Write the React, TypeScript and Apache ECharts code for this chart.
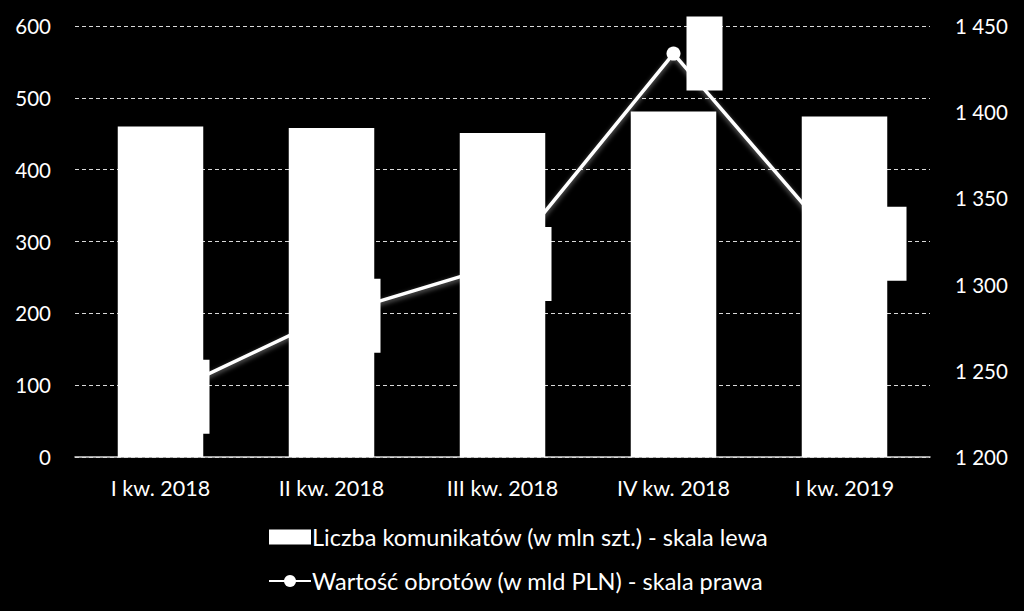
import React, { useEffect, useRef } from "react";
import * as echarts from "echarts";

const categories = ["I kw. 2018", "II kw. 2018", "III kw. 2018", "IV kw. 2018", "I kw. 2019"];
const messages = [460, 458, 451, 481, 474];
const turnover = [1235, 1282, 1312, 1434, 1319];
const leftTicks = { min: 0, max: 600, interval: 100 };
const rightTicks = { min: 1200, max: 1450, interval: 50 };
const barName = "Liczba komunikatów (w mln szt.) - skala lewa";
const lineName = "Wartość obrotów (w mld PLN) - skala prawa";

const FONT = "Lato";

export default function App() {
  const ref = useRef<HTMLDivElement>(null);
  useEffect(() => {
    if (!ref.current) return;
    const chart = echarts.init(ref.current, null, { renderer: "svg" });
    const fmtSpace = (v: number) => String(v).replace(/\B(?=(\d{3})+(?!\d))/g, " ");
    chart.setOption({
      animation: false,
      backgroundColor: "#000",
      textStyle: { fontFamily: FONT },
      grid: { left: 75, right: 94, top: 26, bottom: 154 },
      legend: {
        orient: "vertical",
        left: 263,
        top: 520,
        itemWidth: 42,
        itemHeight: 15,
        itemGap: 20,
        textStyle: { color: "#fff", fontSize: 23.5, fontFamily: FONT, padding: [0, 0, 0, -4] },
        data: [
          { name: barName, icon: "rect" },
          { name: lineName },
        ],
      },
      xAxis: {
        type: "category",
        data: categories,
        axisLine: { lineStyle: { color: "#d9d9d9", width: 1.5 } },
        axisTick: { show: false },
        axisLabel: { color: "#fff", fontSize: 21.5, margin: 20, fontFamily: FONT },
      },
      yAxis: [
        {
          type: "value",
          ...leftTicks,
          axisLine: { show: false },
          axisTick: { show: false },
          axisLabel: { color: "#fff", fontSize: 20.5, margin: 24, fontFamily: FONT },
          splitLine: { lineStyle: { color: "#d9d9d9", type: [4, 3], width: 1 } },
        },
        {
          type: "value",
          ...rightTicks,
          axisLine: { show: false },
          axisTick: { show: false },
          axisLabel: { color: "#fff", fontSize: 20.5, margin: 25, fontFamily: FONT, formatter: fmtSpace },
          splitLine: { show: false },
        },
      ],
      series: [
        {
          name: barName,
          type: "bar",
          data: messages,
          barWidth: "50%",
          itemStyle: { color: "#fff" },
          z: 2,
        },
        {
          name: lineName,
          type: "line",
          yAxisIndex: 1,
          data: turnover.map((v, i) =>
            i === 4 ? { value: v, label: { offset: [13, -8] } } : { value: v }
          ),
          symbol: "circle",
          symbolSize: 14,
          lineStyle: {
            color: "#fff",
            width: 3.5,
            shadowColor: "rgba(255,255,255,0.45)",
            shadowBlur: 5,
            shadowOffsetY: 2,
          },
          itemStyle: { color: "#fff" },
          label: {
            show: true,
            position: "right",
            distance: 6,
            color: "#fff",
            backgroundColor: "#fff",
            width: 36,
            height: 74,
            fontSize: 11,
            align: "left",
            verticalAlign: "middle",
            formatter: (p: any) => fmtSpace(p.value),
          },
          z: 3,
        },
      ],
    });
    return () => chart.dispose();
  }, []);
  return <div ref={ref} style={{ width: 1024, height: 611, position: "absolute", left: 0, top: 0 }} />;
}
